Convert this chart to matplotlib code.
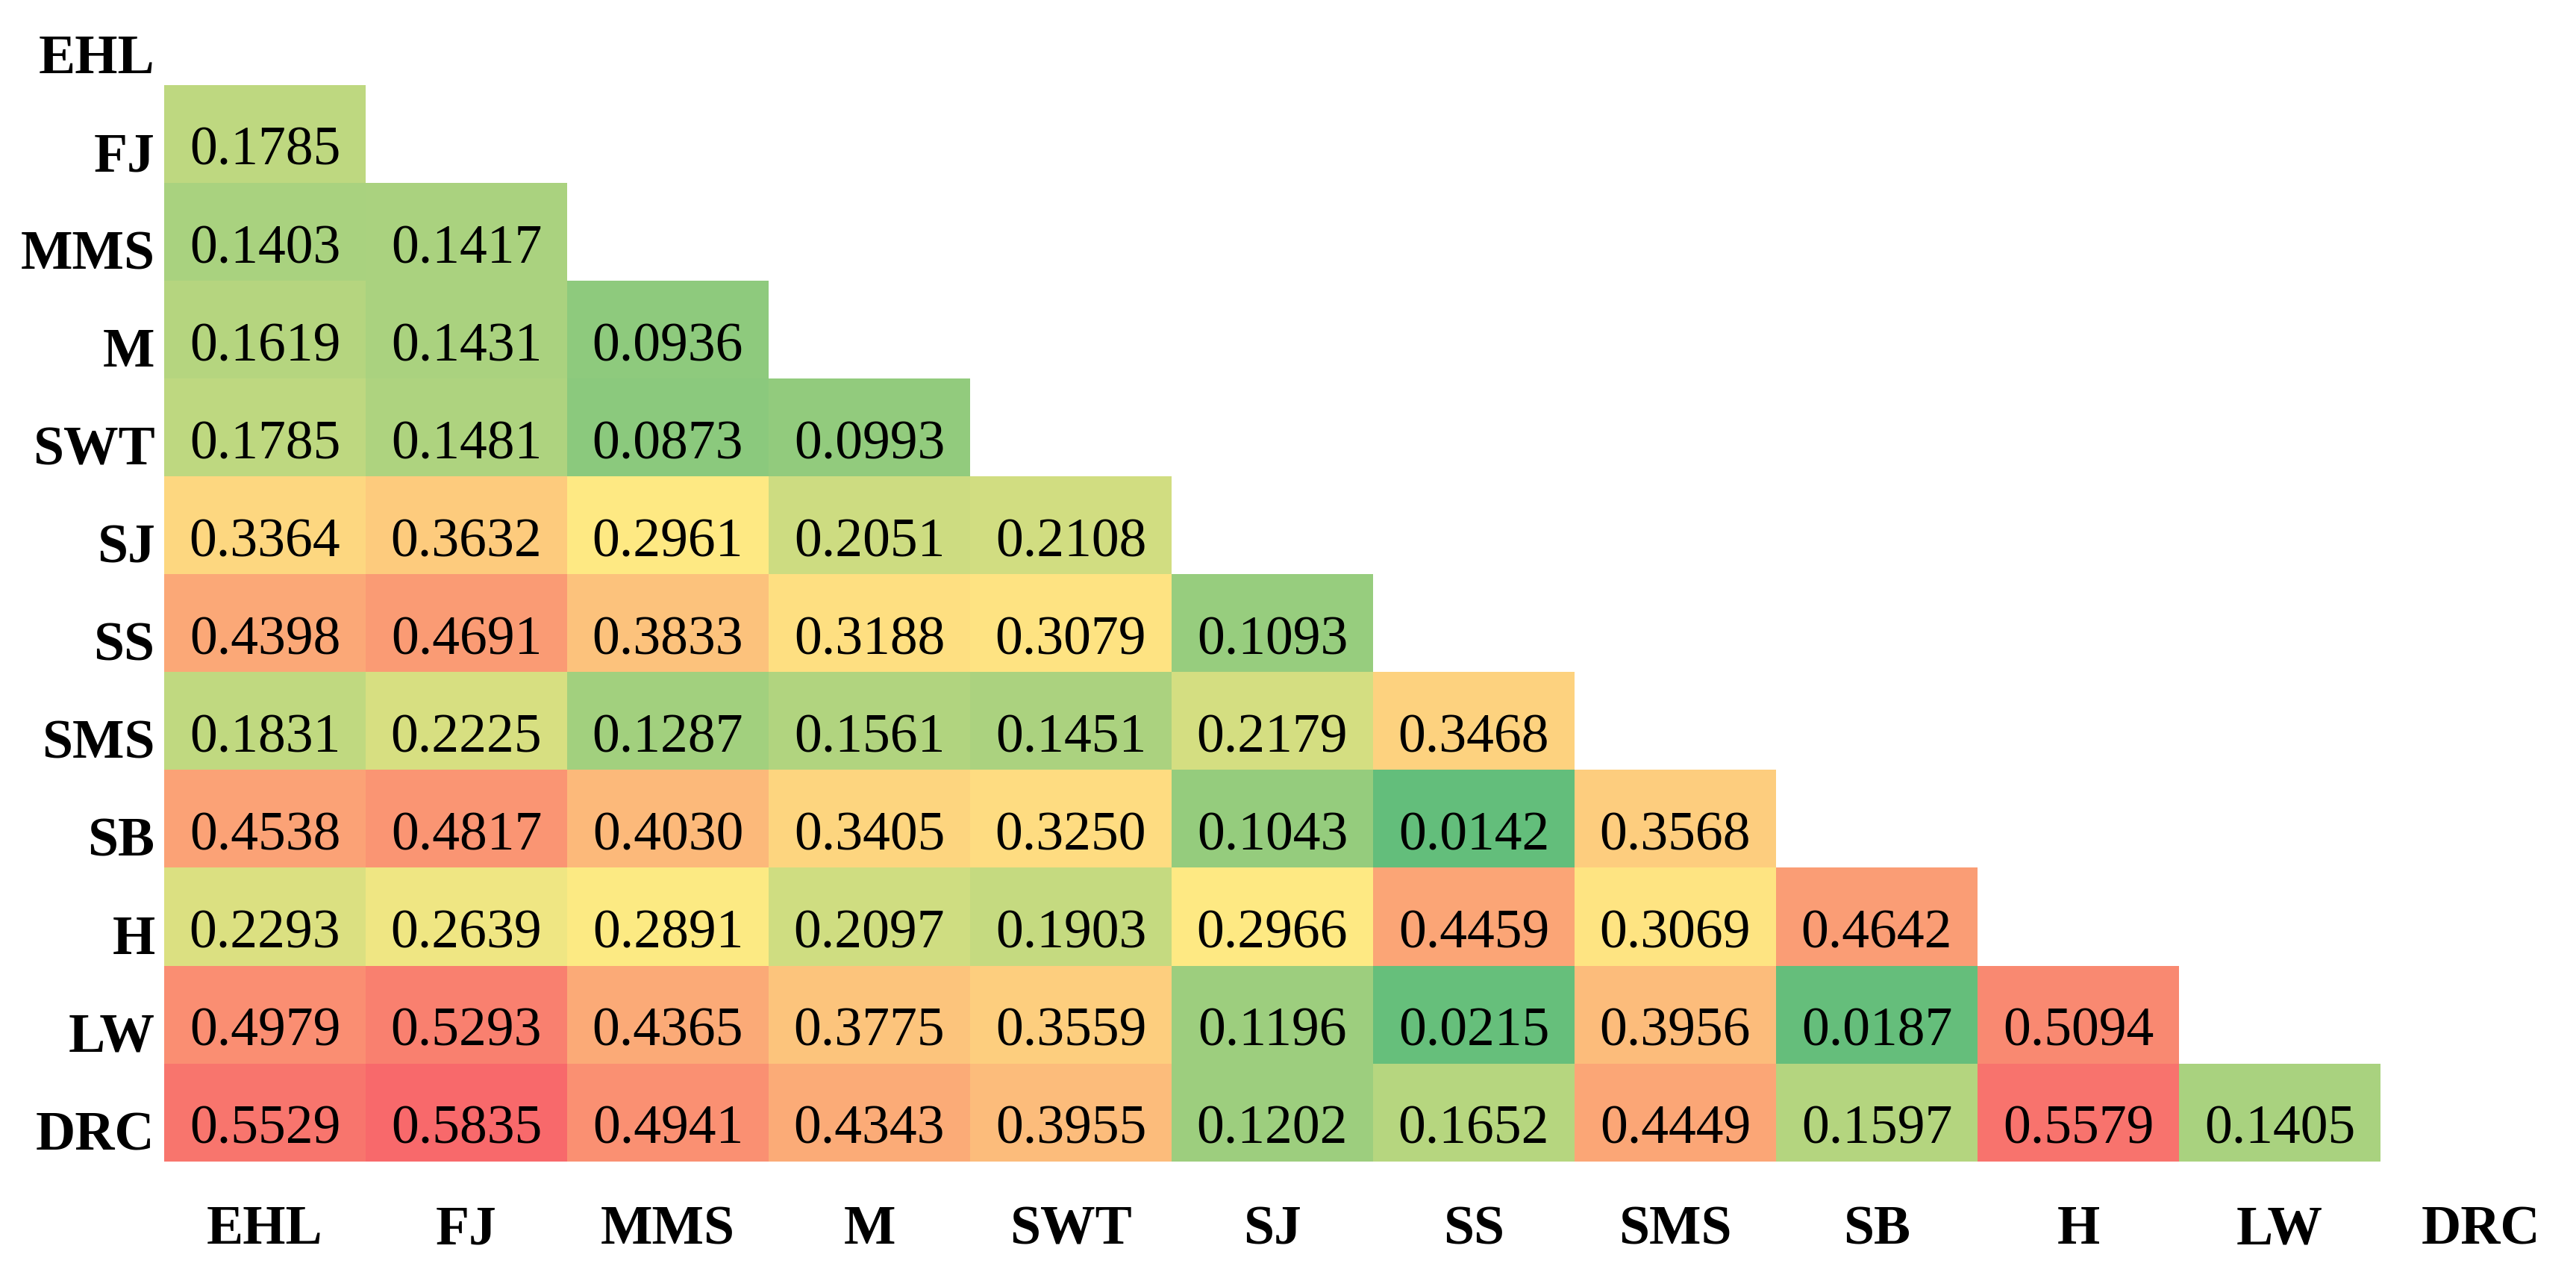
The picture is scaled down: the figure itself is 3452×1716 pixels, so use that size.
import matplotlib
matplotlib.use("Agg")
import matplotlib.pyplot as plt
import numpy as np
from matplotlib.colors import LinearSegmentedColormap

labels = ["EHL", "FJ", "MMS", "M", "SWT", "SJ", "SS", "SMS", "SB", "H", "LW", "DRC"]

# lower triangle, row by row (row i has i values)
rows = [
    [],
    [0.1785],
    [0.1403, 0.1417],
    [0.1619, 0.1431, 0.0936],
    [0.1785, 0.1481, 0.0873, 0.0993],
    [0.3364, 0.3632, 0.2961, 0.2051, 0.2108],
    [0.4398, 0.4691, 0.3833, 0.3188, 0.3079, 0.1093],
    [0.1831, 0.2225, 0.1287, 0.1561, 0.1451, 0.2179, 0.3468],
    [0.4538, 0.4817, 0.4030, 0.3405, 0.3250, 0.1043, 0.0142, 0.3568],
    [0.2293, 0.2639, 0.2891, 0.2097, 0.1903, 0.2966, 0.4459, 0.3069, 0.4642],
    [0.4979, 0.5293, 0.4365, 0.3775, 0.3559, 0.1196, 0.0215, 0.3956, 0.0187, 0.5094],
    [0.5529, 0.5835, 0.4941, 0.4343, 0.3955, 0.1202, 0.1652, 0.4449, 0.1597, 0.5579, 0.1405],
]

n = len(labels)
mat = np.full((n, n), np.nan)
for i, r in enumerate(rows):
    mat[i, :len(r)] = r
data = np.ma.masked_invalid(mat)

# Excel-style 3 colour scale: min green, median yellow, max red
vals = data.compressed()
vmin, vmax, vmid = vals.min(), vals.max(), np.percentile(vals, 50)
mid = (vmid - vmin) / (vmax - vmin)
cmap = LinearSegmentedColormap.from_list(
    "gyr", [(0, "#63BE7B"), (mid, "#FFEB84"), (1, "#F8696B")])
cmap.set_bad("white")

W, H = 3452, 1716
fig = plt.figure(figsize=(W / 100, H / 100), dpi=100)
ax = fig.add_axes([220 / W, 160 / H, 3240 / W, 1573 / H])

ax.imshow(data, cmap=cmap, vmin=vmin, vmax=vmax, aspect="auto",
          interpolation="nearest")

font = "Liberation Serif"
for i in range(n):
    for j in range(n):
        if not np.ma.is_masked(data[i, j]):
            ax.text(j, i + 0.18, f"{data[i, j]:.4f}", ha="center", va="center",
                    fontsize=53, family=font, color="black")

ax.set_xticks(np.arange(n))
ax.set_xticklabels(labels, fontsize=53, family=font, fontweight="bold")
ax.set_yticks(np.arange(n) + 0.18)
ax.set_yticklabels(labels, fontsize=53, family=font, fontweight="bold")
ax.tick_params(axis="x", length=0, pad=42)
ax.tick_params(axis="y", length=0, pad=9)
ax.set_xlim(-0.5, n - 0.5)
ax.set_ylim(n - 0.5, -0.5)
for s in ax.spines.values():
    s.set_visible(False)

fig.savefig("out.png", dpi=100)
